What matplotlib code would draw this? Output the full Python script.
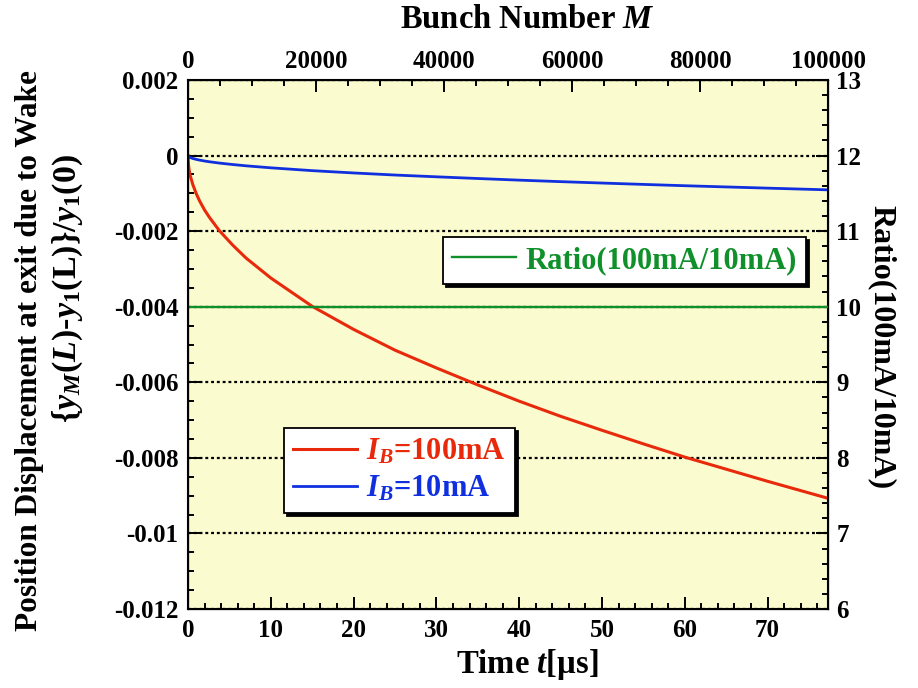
#!/usr/bin/env python3
"""Wake-induced position displacement vs time, 100 mA and 10 mA beams."""
import matplotlib
matplotlib.use("Agg")
import matplotlib.pyplot as plt
from matplotlib.ticker import MultipleLocator, FuncFormatter

# data
t_us = [0, 0.05, 0.12, 0.25, 0.6, 1.0, 1.4, 2.0, 2.6, 3.8, 5.4, 7, 10,
        15, 20, 25, 30, 35, 40, 45, 50, 55, 60, 65, 70, 77.3]
disp_100ma = [0, -0.00023, -0.00036, -0.00052, -0.00078, -0.00101, -0.00120,
              -0.00144, -0.00164, -0.00199, -0.00237, -0.00271, -0.00324,
              -0.00399, -0.00460, -0.00515, -0.00562, -0.00607, -0.00650,
              -0.00690, -0.00727, -0.00763, -0.00798, -0.00830, -0.00862,
              -0.00907]
disp_10ma = [0, -0.000023, -0.000036, -0.000052, -0.000078, -0.000101,
             -0.000120, -0.000144, -0.000164, -0.000199, -0.000237,
             -0.000271, -0.000324, -0.000399, -0.000460, -0.000515,
             -0.000562, -0.000607, -0.000650, -0.000690, -0.000727,
             -0.000763, -0.000798, -0.000830, -0.000862, -0.000907]
ratio_t = [0, 77.3]
ratio = [10.0, 10.0]

T_MAX = 77.3
M_MAX = 100000

RED = "#e8290b"
BLUE = "#1030e0"
GREEN = "#10902a"
BG = "#fbfbd0"

plt.rcParams["font.family"] = ["Liberation Serif", "DejaVu Serif"]
plt.rcParams["font.weight"] = "bold"
plt.rcParams["mathtext.fontset"] = "custom"
plt.rcParams["mathtext.rm"] = "Liberation Serif:bold"
plt.rcParams["mathtext.it"] = "Liberation Serif:italic:bold"
plt.rcParams["mathtext.bf"] = "Liberation Serif:bold"


def style_ticks(a, axis, major_len=8.5, minor_len=4.5, pad=8):
    a.tick_params(axis=axis, which="both", direction="in", width=1.4,
                  labelsize=18, colors="black")
    a.tick_params(axis=axis, which="major", length=major_len, pad=pad)
    a.tick_params(axis=axis, which="minor", length=minor_len)


def main() -> None:
    fig = plt.figure(figsize=(9.18, 6.88), dpi=100)
    ax = fig.add_axes([188 / 918, 1 - 609 / 688, 640 / 918, 529 / 688])
    ax.set_facecolor(BG)

    ax.plot(t_us, disp_100ma, color=RED, lw=2.2, label=r"$I_B$=100mA")
    ax.plot(t_us, disp_10ma, color=BLUE, lw=2.0, label=r"$I_B$=10mA")
    ax.set_xlim(0, T_MAX)
    ax.set_ylim(-0.012, 0.002)
    ax.xaxis.set_major_locator(MultipleLocator(10))
    ax.xaxis.set_minor_locator(MultipleLocator(2))
    ax.yaxis.set_major_locator(MultipleLocator(0.002))
    ax.yaxis.set_minor_locator(MultipleLocator(0.0005))
    ax.yaxis.set_major_formatter(
        FuncFormatter(lambda v, p: f"{v:g}" if abs(v) > 1e-9 else "0"))
    ax.grid(True, axis="y", which="major", color="black",
            linestyle=(0, (1.3, 1.3)), lw=1.6)
    style_ticks(ax, "x", pad=7)
    style_ticks(ax, "y", pad=7)
    for s in ax.spines.values():
        s.set_linewidth(1.5)

    # right axis: ratio
    axr = ax.twinx()
    axr.plot(ratio_t, ratio, color=GREEN, lw=1.7, label="Ratio(100mA/10mA)")
    axr.set_ylim(6, 13)
    axr.yaxis.set_major_locator(MultipleLocator(1))
    axr.yaxis.set_minor_locator(MultipleLocator(0.2))
    style_ticks(axr, "y", pad=6)

    # top axis: bunch number
    axt = ax.twiny()
    axt.set_xlim(0, M_MAX)
    axt.xaxis.set_major_locator(MultipleLocator(20000))
    axt.xaxis.set_minor_locator(MultipleLocator(5000))
    style_ticks(axt, "x", pad=5)

    leg_kw = dict(loc="upper left", borderaxespad=0, fancybox=False,
                  framealpha=1, edgecolor="black", fontsize=22,
                  labelcolor="linecolor", handlelength=2.1,
                  handletextpad=0.3, borderpad=0.3,
                  shadow={"color": "black", "alpha": 1})
    leg1 = axr.legend(bbox_to_anchor=(443 / 918, 1 - 237 / 688),
                      bbox_transform=fig.transFigure, **leg_kw)
    leg2 = ax.legend(bbox_to_anchor=(284 / 918, 1 - 428 / 688),
                     bbox_transform=fig.transFigure, labelspacing=0.25,
                     **leg_kw)
    for lg in (leg1, leg2):
        lg.get_frame().set_linewidth(1.3)
        lg.set_zorder(10)

    fig.text(30 / 918, 1 - 351 / 688,
             "Position Displacement at exit due to Wake",
             rotation=90, ha="center", va="center", fontsize=22.5)
    fig.text(68 / 918, 1 - 288 / 688,
             r"{$y_M(L)$-$y_1$(L)}/$y_1$(0)",
             rotation=90, ha="center", va="center", fontsize=24.5)
    fig.text(882 / 918, 1 - 347 / 688, "Ratio(100mA/10mA)",
             rotation=270, ha="center", va="center", fontsize=23)
    fig.text(527 / 918, 1 - 20 / 688, r"Bunch Number $M$",
             ha="center", va="center", fontsize=23.5)
    fig.text(527 / 918, 1 - 665 / 688, r"Time $t$[µs]",
             ha="center", va="center", fontsize=23.5)

    fig.savefig("out.png", dpi=100)
    plt.close(fig)


if __name__ == "__main__":
    main()
